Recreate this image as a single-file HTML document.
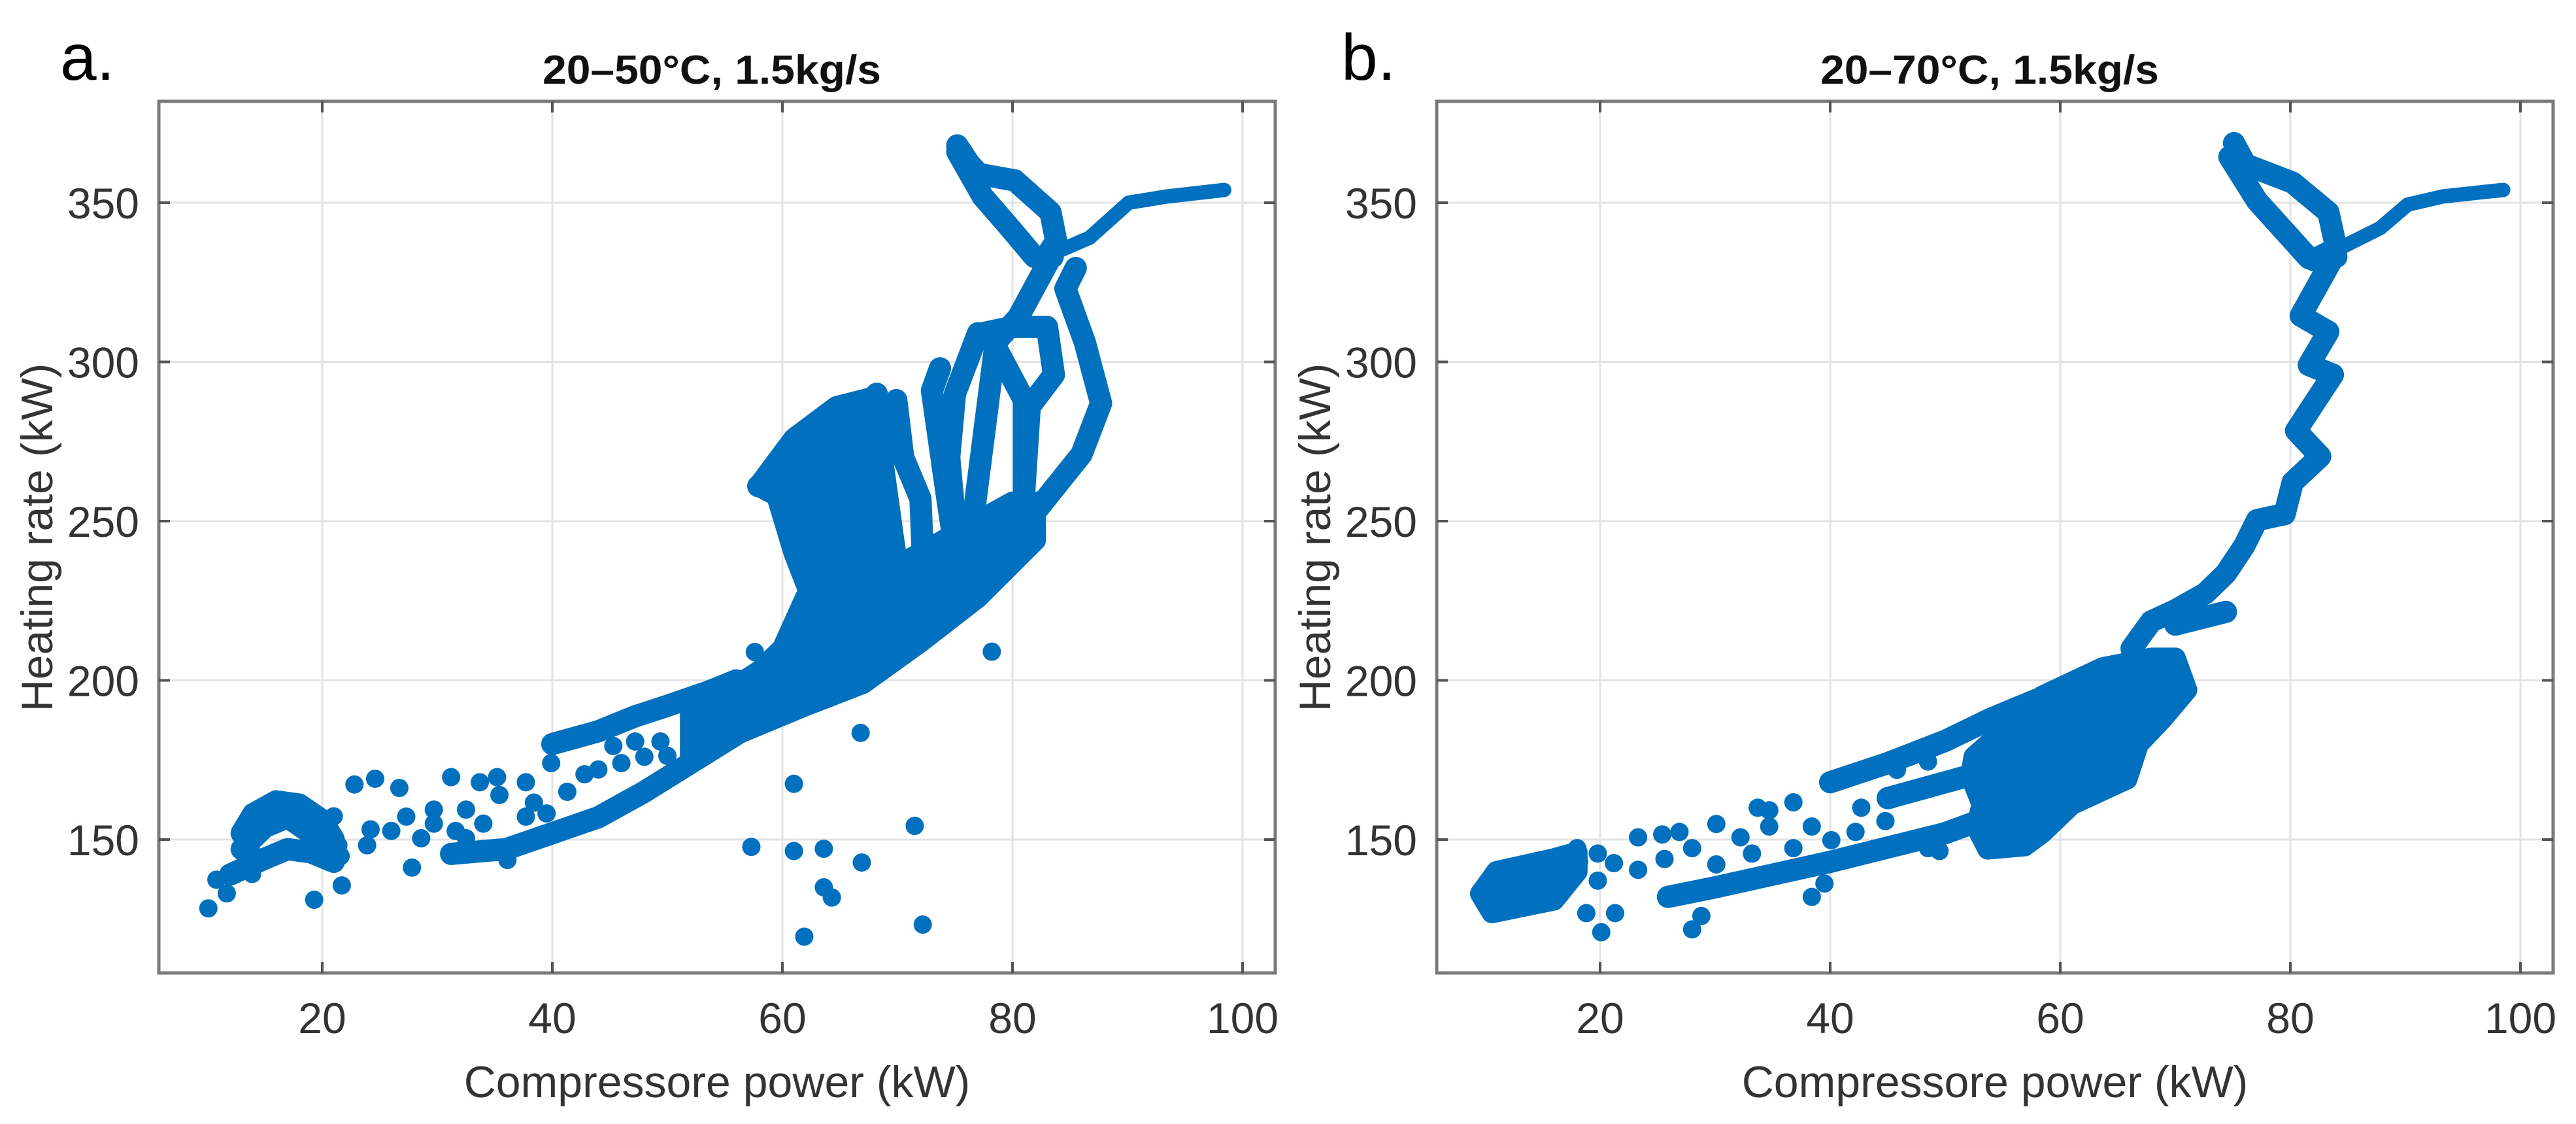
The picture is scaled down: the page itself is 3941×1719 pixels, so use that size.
<!DOCTYPE html>
<html><head><meta charset="utf-8">
<style>
html,body{margin:0;padding:0;background:#fff;}
svg{display:block;}
text{font-family:"Liberation Sans",Arial,sans-serif;}
</style></head>
<body>
<svg id="fig" width="3941" height="1719" viewBox="0 0 3941 1719" xmlns="http://www.w3.org/2000/svg">
<rect x="0" y="0" width="3941" height="1719" fill="#fff"/>
</svg>
<script>
// ---- data (values in chart units: compressor power kW, heating rate kW) ----
const xTicks = [20, 40, 60, 80, 100];
const yTicks = [150, 200, 250, 300, 350];
const panelTitles = ["20–50°C, 1.5kg/s", "20–70°C, 1.5kg/s"];
const panelLetters = ["a.", "b."];

// Panel a: trajectories (dense dot sequences)
const aPaths = [
 [[75.2,368],[76.3,362],[77.1,359],[80.2,357],[83.3,347],[83.8,338],[82.9,333]],
 [[75.2,366],[77.4,352],[79.8,342],[81.9,333],[83.5,333]],
 [[83.5,334],[80.5,314],[78.5,306]],
 [[85.5,329.5],[84.6,323],[86.3,306],[87.7,287],[86,271],[81.9,252.5],[78.1,239],[74.7,227]],
 [[77.4,309],[80,311],[83,311],[83.6,296],[81.5,286],[81,258]],
 [[78.5,305],[76.7,254],[75,240]],
 [[77,309],[75,290],[74.5,270],[75,250]],
 [[73.7,298],[73,291],[74.3,258],[75,241]],
 [[78.5,305],[81,288],[81,260]],
 [[69.9,288],[70.5,270],[72,257],[72.3,231]],
 [[68.2,290],[68.5,260],[68,232]],
 [[57.9,261],[59.5,265],[61,262]],
 [[40,180],[44,184],[47.2,188.7],[50,192],[53.6,196.5],[56,200]],
 [[31.2,145.5],[36,147],[40,152],[44,157],[48,165],[52,174],[56,183]],
 [[13,152],[14,158],[16,162],[18,161],[20,156],[21,150]],
 [[13,147],[15,154],[17,157],[19,152],[20,146]],
 [[12,139],[15,144],[17,147],[19,146],[21,143]]
];
const aTail = [[83.5,334],[86.7,339],[90.1,350],[93.5,352],[98.4,354]];
const aBlobs = [
 [[52,190],[55,196],[58,203],[60,210],[62,226],[65,232],[70,236],[75,246],[80,256],[82,256],[82,244],[77,226],[72,212],[67,199],[62,192],[56,183],[52,176]],
 [[57.9,261],[61,276],[64.7,286],[68,289],[69,262],[70,236],[66,228],[62.5,226],[61,240],[59.5,258]]
];
const aDots = [
 [78.2,209],[66.8,183.5],[61,167.5],[57.3,147.7],[61,146.4],[63.6,147.1],[66.9,142.8],[63.6,135],[64.3,131.8],[61.9,119.5],[71.5,154.3],[72.2,123.3],
 [10.1,128.4],[10.8,137.4],[11.7,133.1],[19.3,131.1],[21.7,135.6],[22.8,167.3],[24.6,169.1],[26.7,166.2],[27.8,141.2],[27.3,157.2],
 [31.2,169.6],[31.6,152.7],[33.7,168],[35.2,169.6],[36.1,143.6],[37.7,168],[37.7,157.2],[39.9,174],[41.3,165],[42.8,170.5],[46,174],
 [45.3,179.4],[47.2,180.8],[49.4,180.8],[50,176.3],[52.2,187.5],[52.9,178.5],[54.3,194.3],[57.6,208.9],
 [13.8,153.9],[15.9,146],[13.9,146],[13.9,139.2],[18.8,148.2],[21,157.3],[21.4,148.2],[21.6,144.8],[23.9,148.2],[24.2,153.2],[26,152.7],
 [29.7,155],[29.7,159.4],[28.6,150.4],[32.5,159.4],[34,155],[35.4,164],[32.5,150.4],[38.4,161.6],[39.5,158.2],[44,172],[48,176]
];

// Panel b
const bPaths = [
 [[75.1,368.7],[76.1,362],[80.2,356.3],[83.3,347],[84,335.7],[82,332]],
 [[74.7,364.4],[77.1,350.6],[81.6,332.6],[84,333]],
 [[84,335],[83.6,332],[80.9,314.5],[83.3,309.5],[81.6,299],[83.7,296],[80.5,278.4],[82.6,270.3],[80.2,262.2],[79.5,252.2],[77.1,250.3],[76,242.3],[74.4,233.6],[72.6,227.3],[70,222],[67.9,218.5],[66.2,210],[67,206]],
 [[74.4,221.5],[70,217.5]],
 [[40,168],[45,174],[50,181],[54,188],[58,194]],
 [[25.9,132],[30,135],[35,139],[40,143],[45,147.5],[50,152],[53,156]],
 [[45,163],[50,168],[54,172]],
 [[10,131],[10.5,137],[12,139],[14,141],[16,142],[18,143]]
];
const bTail = [[84.3,335.7],[87.8,342],[90.2,349.4],[93.3,352],[98.5,354]];
const bBlobs = [
 [[52.5,176],[58.4,195],[63.7,204],[67.9,207],[70,207],[71,197],[68.9,188],[66.8,180],[65.8,169],[61,161],[58.4,152],[56.9,148],[53.7,147],[52.7,154],[53.2,161],[52.2,170]],
 [[9.6,133],[11,140],[16,144],[18,146],[18,140],[16,131],[10.6,127]]
];
const bDots = [
 [18,147.3],[19.8,145.6],[19.8,137.1],[18.8,126.9],[21.3,126.9],[20.1,120.9],[21.2,142.6],[23.3,150.7],[23.3,140.5],[25.4,151.6],
 [26.9,152.4],[25.6,143.9],[28,147.3],[28.8,126],[28,121.8],[30.1,142.2],[30.1,154.9],[32.2,150.7],[33.2,145.6],[34.7,154.1],
 [36.8,161.7],[36.8,147.3],[38.4,154.1],[39.5,136.2],[38.4,132],[40.1,149.8],[42.2,152.4],[44.8,155.8],[42.7,160],[45.3,162.6],
 [45.8,171.9],[48.5,174.5],[49.5,146.4],[48.5,147.3],[34.7,159.2],[33.7,160]
];

// ---- drawing ----
const NS = "http://www.w3.org/2000/svg";
const svg = document.getElementById("fig");
const BLUE = "#0070BF";
const panelOffsets = [0, 1955];
const X0 = 493, PXU = 17.6;
const Y0 = 1284, PYU = 4.87;
const axL = 243, axR = 1951, axT = 155, axB = 1488;

function mk(tag, attrs, parent){
  const e = document.createElementNS(NS, tag);
  for (const k in attrs) e.setAttribute(k, attrs[k]);
  (parent || svg).appendChild(e);
  return e;
}

function drawPanel(i, paths, tail, blobs, dots){
  const ox = panelOffsets[i];
  const X = v => ox + X0 + (v - 20) * PXU;
  const Y = v => Y0 - (v - 150) * PYU;
  const g = mk("g", {});
  
  

  xTicks.forEach(t => {
    const l = mk("line", {x1:X(t), x2:X(t), y1:axT, y2:axB, stroke:"#e3e3e3", "stroke-width":3}, g);
    
    
  });
  yTicks.forEach(t => {
    const l = mk("line", {x1:ox+axL, x2:ox+axR, y1:Y(t), y2:Y(t), stroke:"#e3e3e3", "stroke-width":3}, g);
    
    
  });

  const dg = mk("g", {fill:BLUE, stroke:BLUE}, g);
  
  
  blobs.forEach(poly => {
    const p = mk("polygon", {points: poly.map(q => X(q[0]) + "," + Y(q[1])).join(" "), "stroke-width":32, "stroke-linejoin":"round"}, dg);
    
    
  });
  paths.forEach(path => {
    const p = mk("polyline", {points: path.map(q => X(q[0]) + "," + Y(q[1])).join(" "), fill:"none", "stroke-width":34, "stroke-linejoin":"round", "stroke-linecap":"round"}, dg);
    
    
  });
  const tp = mk("polyline", {points: tail.map(q => X(q[0]) + "," + Y(q[1])).join(" "), fill:"none", "stroke-width":22, "stroke-linejoin":"round", "stroke-linecap":"round"}, dg);
  
  
  dots.forEach(d => {
    const c = mk("circle", {cx:X(d[0]), cy:Y(d[1]), r:14, stroke:"none"}, dg);
    
    
  });

  const box = mk("rect", {x:ox+axL, y:axT, width:axR-axL, height:axB-axT, fill:"none", stroke:"#7a7a7a", "stroke-width":5}, g);
  
  
  xTicks.forEach(t => {
    mk("line", {x1:X(t), x2:X(t), y1:axB, y2:axB-17, stroke:"#555", "stroke-width":4}, g);
    mk("line", {x1:X(t), x2:X(t), y1:axT, y2:axT+17, stroke:"#555", "stroke-width":4}, g);
    const tx = mk("text", {x:X(t), y:1580, "text-anchor":"middle", "font-size":66, fill:"#333"}, g);
    tx.textContent = t;
    
    
  });
  yTicks.forEach(t => {
    mk("line", {x1:ox+axL, x2:ox+axL+17, y1:Y(t), y2:Y(t), stroke:"#555", "stroke-width":4}, g);
    mk("line", {x1:ox+axR, x2:ox+axR-17, y1:Y(t), y2:Y(t), stroke:"#555", "stroke-width":4}, g);
    const ty = mk("text", {x:ox+213, y:Y(t)+24, "text-anchor":"end", "font-size":66, fill:"#333"}, g);
    ty.textContent = t;
    
    
  });

  const xl = mk("text", {x:ox+1097, y:1678, "text-anchor":"middle", "font-size":68, fill:"#333"}, g);
  xl.textContent = "Compressore power (kW)";
  
  

  const yl = mk("text", {x:0, y:0, "text-anchor":"middle", "font-size":68, fill:"#333", transform:"translate(" + (ox+80) + ",822) rotate(-90)"}, g);
  yl.textContent = "Heating rate (kW)";
  
  

  const ti = mk("text", {x:ox+1089, y:128, "text-anchor":"middle", "font-size":62, "font-weight":"bold", fill:"#111", textLength:518, lengthAdjust:"spacingAndGlyphs"}, g);
  ti.textContent = panelTitles[i];
  
  

  const le = mk("text", {x:ox+(i ? 97 : 92), y:122, "font-size":100, fill:"#000"}, g);
  le.textContent = panelLetters[i];
  
  
}

drawPanel(0, aPaths, aTail, aBlobs, aDots);
drawPanel(1, bPaths, bTail, bBlobs, bDots);
</script>
</body></html>
